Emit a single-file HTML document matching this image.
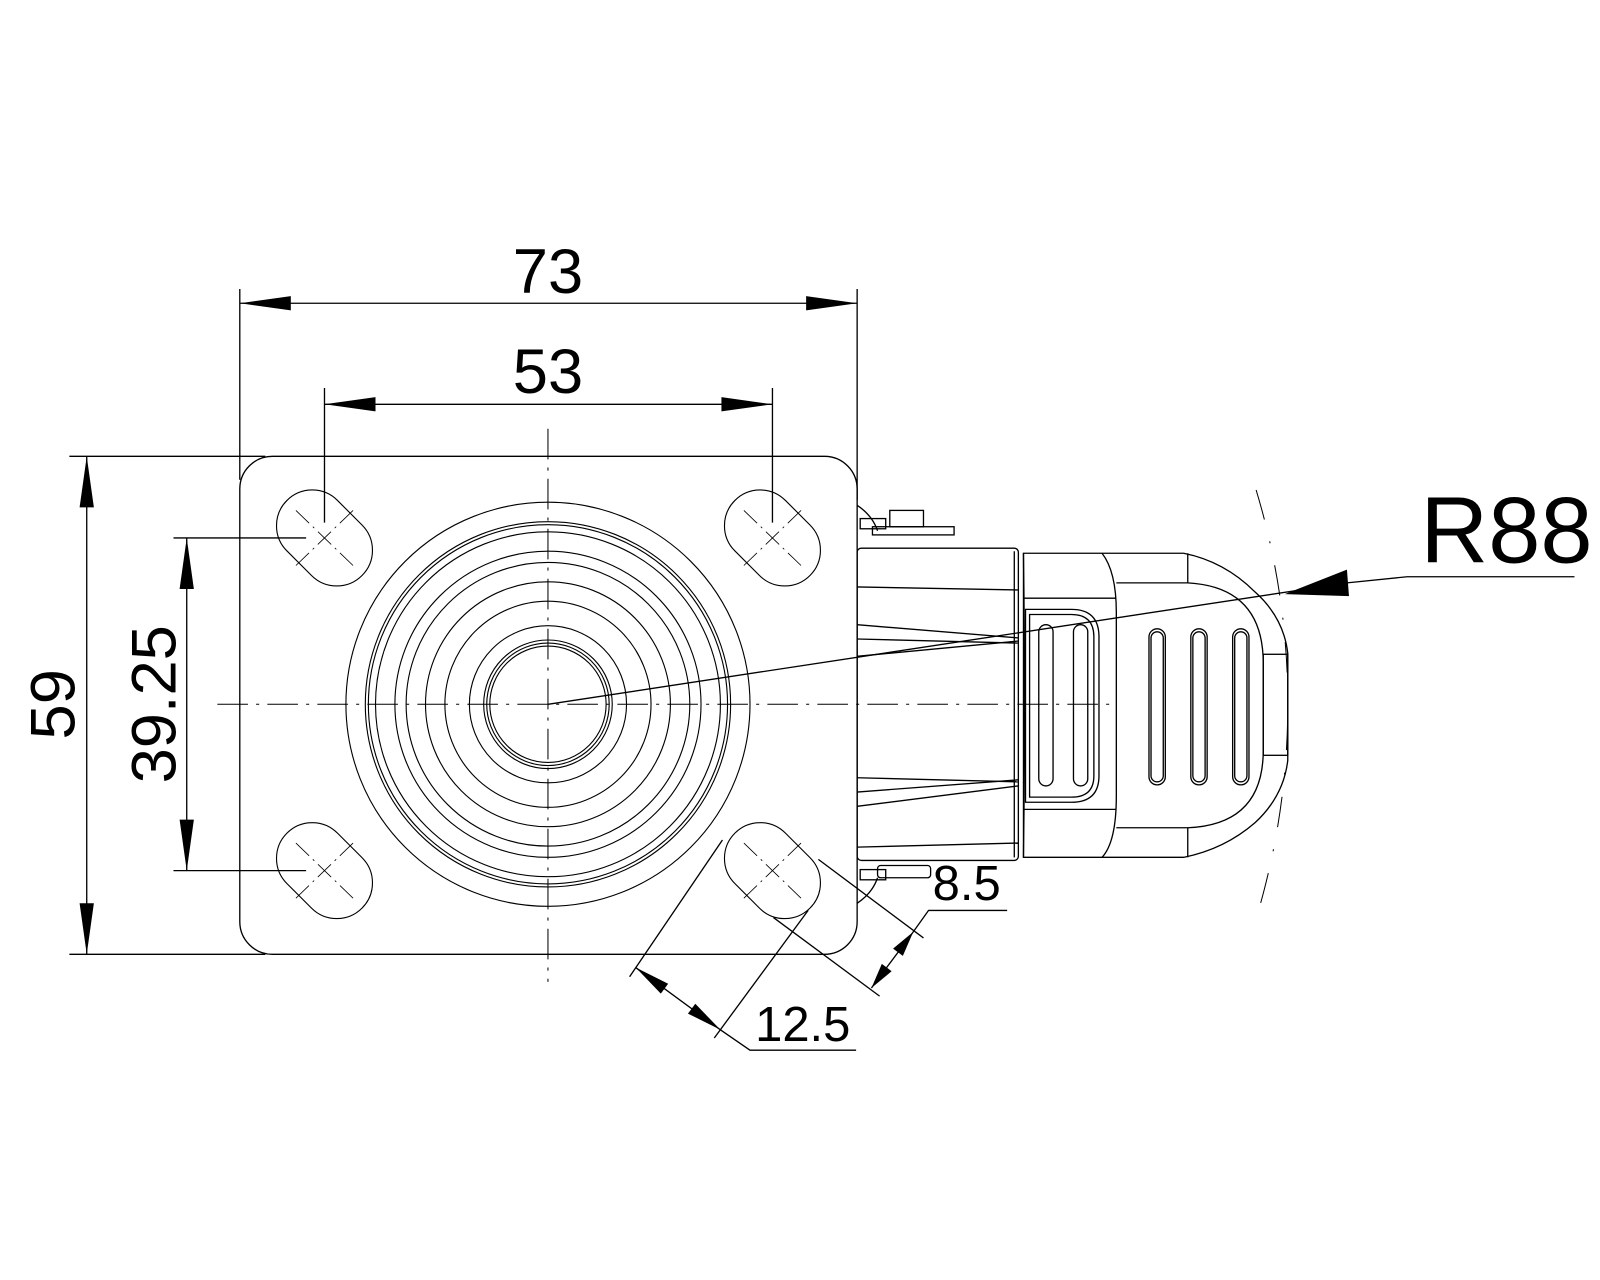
<!DOCTYPE html>
<html><head><style>html,body{margin:0;padding:0;background:#fff}svg{display:block}text{font-family:"Liberation Sans",sans-serif;fill:#000}</style></head>
<body>
<svg width="1600" height="1280" viewBox="0 0 1568 1254" xmlns="http://www.w3.org/2000/svg">
<g fill="none" stroke="#000" stroke-width="1.3">
<rect x="235" y="447" width="605" height="488" rx="32"/>
<g stroke-width="1.1">
<circle cx="537" cy="690" r="198"/><circle cx="537" cy="690" r="179"/><circle cx="537" cy="690" r="176"/>
<circle cx="537" cy="690" r="169"/><circle cx="537" cy="690" r="150"/><circle cx="537" cy="690" r="139"/>
<circle cx="537" cy="690" r="120"/><circle cx="537" cy="690" r="101"/><circle cx="537" cy="690" r="77"/>
<circle cx="537" cy="690" r="63"/><circle cx="537" cy="690" r="60"/><circle cx="537" cy="690" r="57"/>
</g>
<g stroke-width="1.1">
<rect x="-52" y="-35" width="104" height="70" rx="35" transform="translate(318,527) rotate(45)"/>
<rect x="-52" y="-35" width="104" height="70" rx="35" transform="translate(757,527) rotate(45)"/>
<rect x="-52" y="-35" width="104" height="70" rx="35" transform="translate(318,853) rotate(45)"/>
<rect x="-52" y="-35" width="104" height="70" rx="35" transform="translate(757,853) rotate(45)"/>
</g>
<g stroke-width="0.8" stroke-dasharray="18 5 2 5">
<line x1="290" y1="500" x2="346" y2="554"/><line x1="346" y1="500" x2="290" y2="554"/>
<line x1="729" y1="500" x2="785" y2="554"/><line x1="785" y1="500" x2="729" y2="554"/>
<line x1="290" y1="826" x2="346" y2="880"/><line x1="346" y1="826" x2="290" y2="880"/>
<line x1="729" y1="826" x2="785" y2="880"/><line x1="785" y1="826" x2="729" y2="880"/>
</g>
<g stroke-width="1" stroke-dasharray="30 8 3 8">
<line x1="213" y1="690" x2="1095" y2="690"/>
<line x1="537" y1="420" x2="537" y2="962"/>
</g>
<rect x="840" y="537" width="158" height="306" rx="4"/>
<line x1="840" y1="575" x2="998" y2="578"/>
<line x1="840" y1="612" x2="998" y2="625"/>
<line x1="840" y1="626" x2="998" y2="630"/>
<line x1="840" y1="643" x2="998" y2="628"/>
<line x1="840" y1="762" x2="998" y2="766"/>
<line x1="840" y1="776" x2="998" y2="764"/>
<line x1="840" y1="790" x2="998" y2="770"/>
<line x1="840" y1="830" x2="998" y2="826"/>
<line x1="994" y1="540" x2="994" y2="840"/>
<path d="M840 495 Q855 505 860 520"/>
<rect x="855" y="516" width="80" height="8"/><rect x="872" y="500" width="33" height="16"/>
<rect x="843" y="508" width="25" height="10"/>
<path d="M840 885 Q855 875 860 860"/>
<rect x="860" y="848" width="52" height="12" rx="3"/><rect x="843" y="852" width="25" height="10"/>
<path d="M1003 542 L1160 542 Q1200 550 1230 580 Q1258 605 1262 640 L1262 745 Q1258 780 1230 806 Q1200 832 1160 840 L1003 840 Z"/>
<path d="M1003 542 Q1005 690 1003 840"/>
<path d="M1080 542 Q1094 560 1094 600 L1094 780 Q1094 825 1080 840"/>
<path d="M1094 571 L1164 571 Q1238 575 1238 650 L1238 735 Q1238 808 1164 811 L1094 811"/>
<line x1="1164" y1="542" x2="1164" y2="571"/><line x1="1164" y1="811" x2="1164" y2="840"/>
<rect x="1238" y="641" width="24" height="99"/>
<line x1="1003" y1="586" x2="1094" y2="586"/><line x1="1003" y1="793" x2="1094" y2="793"/>
<path d="M1005 597 L1050 597 Q1077 597 1077 624 L1077 760 Q1077 786 1050 786 L1005 786 Z"/>
<path d="M1009 602 L1050 602 Q1072 602 1072 624 L1072 760 Q1072 781 1050 781 L1009 781 Z"/>
<rect x="1018" y="612" width="14" height="158" rx="7"/>
<rect x="1052" y="612" width="14" height="158" rx="7"/>
<rect x="1126" y="616" width="16" height="153" rx="8"/><rect x="1128" y="619" width="12" height="147" rx="6"/>
<rect x="1167" y="616" width="16" height="153" rx="8"/><rect x="1169" y="619" width="12" height="147" rx="6"/>
<rect x="1208" y="616" width="16" height="153" rx="8"/><rect x="1210" y="619" width="12" height="147" rx="6"/>
<path d="M1231 480 A725 725 0 0 1 1231 900" stroke-width="1" stroke-dasharray="30 22 2 22"/>
<polyline points="537,690 1320,571 1379,565 1543,565"/>
<line x1="235" y1="283" x2="235" y2="470"/><line x1="840" y1="283" x2="840" y2="490"/>
<line x1="235" y1="297" x2="840" y2="297"/>
<line x1="318" y1="380" x2="318" y2="512"/><line x1="757" y1="380" x2="757" y2="512"/>
<line x1="318" y1="396" x2="757" y2="396"/>
<line x1="68" y1="447" x2="260" y2="447"/><line x1="68" y1="935" x2="260" y2="935"/>
<line x1="85" y1="447" x2="85" y2="935"/>
<line x1="170" y1="527" x2="300" y2="527"/><line x1="170" y1="853" x2="300" y2="853"/>
<line x1="183" y1="527" x2="183" y2="853"/>
<line x1="617" y1="957" x2="708" y2="823"/><line x1="700" y1="1017" x2="792" y2="892"/>
<polyline points="623,948 706,1009 735,1029 839,1029"/>
<line x1="802" y1="842" x2="905" y2="919"/><line x1="758" y1="899" x2="862" y2="976"/>
<polyline points="854,968 895,913 910,892 987,892"/>
</g>
<g fill="#000">
<polygon points="235,297 285,290 285,304"/><polygon points="840,297 790,290 790,304"/>
<polygon points="318,396 368,389 368,403"/><polygon points="757,396 707,389 707,403"/>
<polygon points="85,447 78,497 92,497"/><polygon points="85,935 78,885 92,885"/>
<polygon points="183,527 176,577 190,577"/><polygon points="183,853 176,803 190,803"/>
<polygon points="1259,582 1320,558 1322,584"/>
<polygon points="623,948 647.6,973.5 654.8,963.9"/><polygon points="706,1009 674.2,993.1 681.4,983.5"/>
<polygon points="854,968 873.8,951.6 864.2,944.4"/><polygon points="895,913 884.8,936.6 875.2,929.4"/>
</g>
<text x="537" y="287" font-size="62" text-anchor="middle">73</text>
<text x="537" y="385" font-size="62" text-anchor="middle">53</text>
<text x="0" y="0" font-size="62" text-anchor="middle" transform="translate(73,690) rotate(-90)">59</text>
<text x="0" y="0" font-size="62" text-anchor="middle" transform="translate(172,690) rotate(-90)">39.25</text>
<text x="1392" y="551" font-size="92">R88</text>
<text x="914" y="882" font-size="48">8.5</text>
<text x="740" y="1020" font-size="48">12.5</text>
</svg>
</body></html>
